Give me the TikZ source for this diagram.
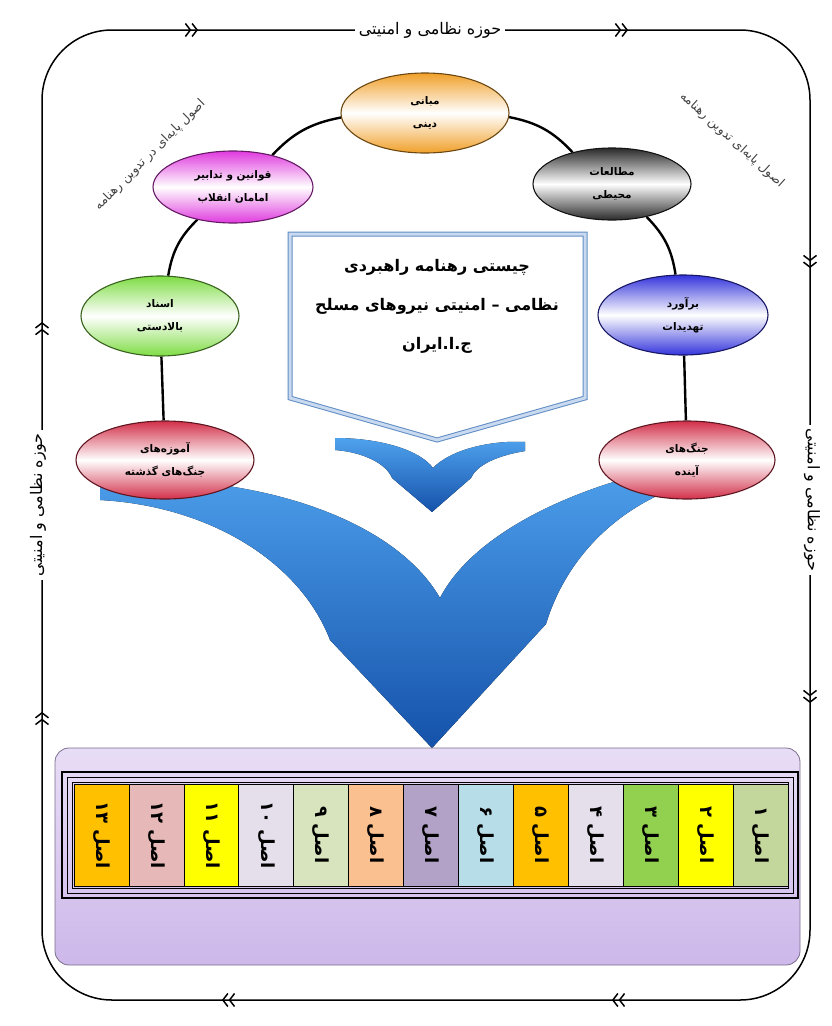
\documentclass[tikz,border=0pt]{standalone}
\usepackage{fontspec}
\newfontfamily\arabicfont[Script=Arabic]{DejaVu Sans}
\TeXXeTstate=1
\usetikzlibrary{shapes.geometric,arrows.meta,decorations.markings,backgrounds}
\newcommand\fa[1]{{\arabicfont\beginR #1\endR}}

\definecolor{relorange}{HTML}{F0A02A}
\definecolor{lawpink}{HTML}{E03ADE}
\definecolor{envgray}{HTML}{2A2A2A}
\definecolor{docgreen}{HTML}{7EDC44}
\definecolor{thrblue}{HTML}{3434DC}
\definecolor{warred}{HTML}{D2304A}
\definecolor{boxblue}{HTML}{5F8CC4}
\definecolor{boxlight}{HTML}{C9DAF0}
\definecolor{flowlight}{HTML}{4FA2EE}
\definecolor{flowdark}{HTML}{1552AA}
\definecolor{panellight}{HTML}{E8DDF6}
\definecolor{paneldark}{HTML}{CDB8EA}
\definecolor{aolive}{HTML}{C3D69B}
\definecolor{ayellow}{HTML}{FFFF00}
\definecolor{agreen}{HTML}{92D050}
\definecolor{alav}{HTML}{E5DFEC}
\definecolor{aorange}{HTML}{FFC000}
\definecolor{ablue}{HTML}{B7DEE8}
\definecolor{apurple}{HTML}{B3A2C7}
\definecolor{apeach}{HTML}{FAC090}
\definecolor{apale}{HTML}{D7E4BD}
\definecolor{apink}{HTML}{E6B9B8}

\tikzset{
  pillar/.style={ellipse, draw=#1!45!black, line width=1.1pt, top color=#1, bottom color=#1, middle color=white,
    minimum width=168pt, minimum height=80pt, inner sep=0pt, align=center, font=\bfseries\fontsize{10.5}{23}\selectfont},
  link/.style={line width=2.4pt},
  frame/.style={line width=1.5pt, rounded corners=70pt},
  zone/.style={fill=white, inner sep=4pt, font=\fontsize{16}{16}\selectfont},
  note/.style={text=black!75, font=\fontsize{12.5}{12.5}\selectfont},
  core/.style={align=center, font=\bfseries\fontsize{16}{39}\selectfont},
  flow/.style={top color=flowlight, bottom color=flowdark},
  asl/.style={draw, line width=0.6pt, rotate=-90, minimum width=102pt, minimum height=54.9pt, inner sep=0pt,
    font=\bfseries\fontsize{18}{18}\selectfont}
}

\begin{document}
\begin{tikzpicture}[x=1pt, y=-1pt, >={Straight Barb[length=5pt,width=13pt]}]
\useasboundingbox (0,0) rectangle (832,1026);

\draw[frame, postaction={decorate}, decoration={markings,
    mark=at position 123pt with {\arrow{>>}},
    mark=at position 541pt with {\arrow{>>}},
    mark=at position 971pt with {\arrow{>>}},
    mark=at position 1361pt with {\arrow{>>}},
    mark=at position 1796pt with {\arrow{>>}},
    mark=at position 2261pt with {\arrow{>>}},
    mark=at position 2651pt with {\arrow{>>}},
    mark=at position 3089pt with {\arrow{>>}}}]
  (42,515) -- (42,30) -- (810,30) -- (810,1000) -- (42,1000) -- cycle;

\node[zone] (ztop) at (430,30) {\fa{حوزه نظامی و امنیتی}};
\node[zone, rotate=90] (zleft) at (38,505) {\fa{حوزه نظامی و امنیتی}};
\node[zone, rotate=-90] (zright) at (812,500) {\fa{حوزه نظامی و امنیتی}};

\node[note, rotate=45] (nleft) at (150,155) {\fa{اصول پایه‌ای در تدوین رهنامه}};
\node[note, rotate=-42] (nright) at (732,140) {\fa{اصول پایه‌ای تدوین رهنامه}};

\fill[flow] (335,438) .. controls (380,438) and (420,450) .. (433,468)
  .. controls (450,450) and (490,440) .. (525,442) -- (525,451)
  .. controls (495,456) and (476,466) .. (471,478) -- (432,512) -- (392,478)
  .. controls (386,463) and (362,452) .. (335,450) -- cycle;

\fill[flow] (100,480) .. controls (260,472) and (395,520) .. (440,598)
  .. controls (480,520) and (620,466) .. (745,457) -- (745,472)
  .. controls (640,482) and (570,545) .. (546,624) -- (432,748) -- (330,640)
  .. controls (300,562) and (210,506) .. (100,500) -- cycle;

\node[pillar=relorange] (rel) at (425,113) {\fa{مبانی}\\\fa{دینی}};
\node[pillar=lawpink, minimum width=160pt, minimum height=72pt] (laws) at (233,187) {\fa{قوانین و تدابیر}\\\fa{امامان انقلاب}};
\node[pillar=envgray, minimum width=158pt, minimum height=72pt] (env) at (612,184) {\fa{مطالعات}\\\fa{محیطی}};
\node[pillar=docgreen, minimum width=158pt] (docs) at (160,316) {\fa{اسناد}\\\fa{بالادستی}};
\node[pillar=thrblue, minimum width=170pt] (threat) at (683,315) {\fa{برآورد}\\\fa{تهدیدات}};
\node[pillar=warred, minimum width=178pt, minimum height=78pt] (lessons) at (165,460) {\fa{آموزه‌های}\\\fa{جنگ‌های گذشته}};
\node[pillar=warred, minimum width=176pt, minimum height=78pt] (future) at (687,460) {\fa{جنگ‌های}\\\fa{آینده}};

\begin{scope}[on background layer]
\draw[link] (rel) to[bend right=18] (laws);
\draw[link] (laws) to[bend right=18] (docs);
\draw[link] (docs) -- (lessons);
\draw[link] (rel) to[bend left=18] (env);
\draw[link] (env) to[bend left=18] (threat);
\draw[link] (threat) -- (future);
\end{scope}

\draw[draw=boxblue, line width=1pt, double=boxlight, double distance=3pt, fill=white]
  (290,234) -- (585,234) -- (585,398) -- (437,440) -- (290,398) -- cycle;
\node[core] (core) at (437,306) {\fa{چیستی رهنامه راهبردی}\\\fa{نظامی – امنیتی نیروهای مسلح}\\\fa{ج.ا.ایران}};

\draw[rounded corners=14pt, draw=paneldark!60!black, line width=0.8pt, top color=panellight, bottom color=paneldark]
  (55,748) rectangle (800,965);
\draw[line width=1.4pt] (62,772) rectangle (798,898);
\draw[line width=1pt] (67,777) rectangle (793,893);
\draw[line width=1pt] (72,782) rectangle (788,888);

\foreach \n/\d/\c in {1/۱/aolive, 2/۲/ayellow, 3/۳/agreen, 4/۴/alav, 5/۵/aorange, 6/۶/ablue, 7/۷/apurple,
    8/۸/apeach, 9/۹/apale, 10/۱۰/alav, 11/۱۱/ayellow, 12/۱۲/apink, 13/۱۳/aorange}{
  \node[asl, fill=\c] (asl\n) at ({760.5-(\n-1)*54.92}, 835) {\fa{اصل \d}};
}
\end{tikzpicture}
\end{document}
